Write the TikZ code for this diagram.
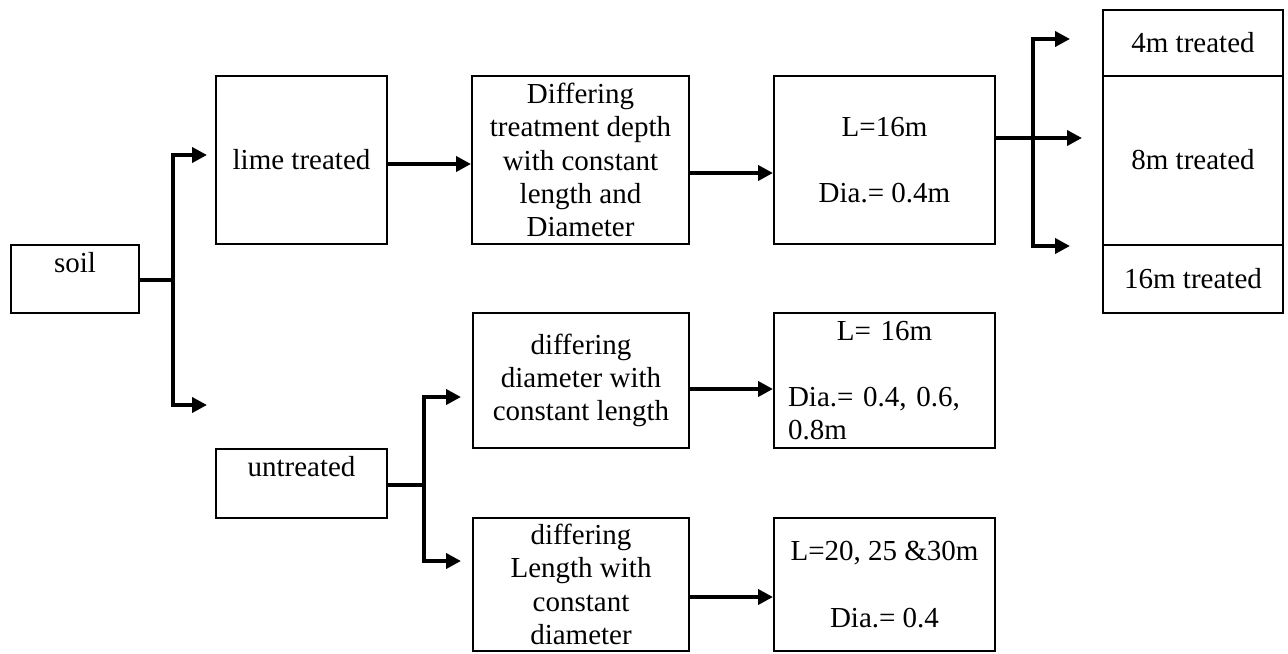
\documentclass[tikz,border=0pt]{standalone}
\usepackage{fontspec}
\setmainfont{Liberation Serif}
\usetikzlibrary{arrows.meta,positioning}
\tikzset{
    block/.style = {draw, rectangle, line width=1pt, inner sep=0pt,
        font=\fontsize{14.5pt}{16.6pt}\selectfont, align=center},
    arrow/.style = {draw, ->, line width=2pt},
    branch/.style = {draw, line width=2pt}
}

\begin{document}
\begin{tikzpicture}[x=0.5pt, y=-0.5pt, node distance=2cm, >={Triangle[length=7.5pt,width=7.5pt]}]
    \useasboundingbox (0,0) rectangle (1288,653);
    \node [block, minimum width=64pt, minimum height=34pt] (soil) at (75,279) {soil\\~};
    % lime treated branch
    \node [block, minimum width=85.5pt, minimum height=84pt] (lime) at (301.5,160) {lime treated};
    \node [block, right of=lime, node distance=139.5pt, minimum width=108.5pt, minimum height=84pt] (depth) {Differing\\treatment depth\\with constant\\length and\\Diameter};
    \node [block, right of=depth, node distance=152pt, minimum width=110.5pt, minimum height=84pt] (fixed) {L=16m\\~\\Dia.= 0.4m};
    \node [block, right of=fixed, node distance=154.25pt, minimum width=90pt, minimum height=84.5pt] (t8) {8m treated};
    \node [block, above of=t8, node distance=58.75pt, minimum width=90pt, minimum height=33pt] (t4) {4m treated};
    \node [block, below of=t8, node distance=59.25pt, minimum width=90pt, minimum height=34pt] (t16) {16m treated};
    % untreated branch
    \node [block, minimum width=85.5pt, minimum height=34.5pt] (untreated) at (301.5,483.5) {untreated\\~};
    \node [block, minimum width=108pt, minimum height=67.5pt] (diam) at (581,380.5) {differing\\diameter with\\constant length};
    \node [block, right of=diam, node distance=151.75pt, minimum width=110.5pt, minimum height=67.5pt, align=left, text width=96.5pt] (dias) {\makebox[96.5pt]{L= 16m}\\~\\Dia.= 0.4, 0.6,\\0.8m};
    \node [block, below of=diam, node distance=102pt, minimum width=108pt, minimum height=66.5pt] (len) {differing\\Length with\\constant\\diameter};
    \node [block, right of=len, node distance=151.75pt, minimum width=110.5pt, minimum height=66.5pt] (lens) {L=20, 25 \&30m\\~\\Dia.= 0.4};

    \coordinate (soilfork) at (173,280);
    \coordinate (limein) at (207,155);
    \coordinate (soilend) at (207,405);
    \draw [branch] (soil.east |- soilfork) -- (soilfork);
    \draw [arrow] (soilfork) |- (limein);
    \draw [arrow] (soilfork) |- (soilend);

    \draw [arrow] ([yshift=-2pt]lime.east) -- ([yshift=-2pt]depth.west);
    \draw [arrow] ([yshift=-6.5pt]depth.east) -- ([yshift=-6.5pt]fixed.west);

    \coordinate (fixfork) at (1033,138);
    \coordinate (in4) at (1070,39);
    \coordinate (in8) at (1082,138);
    \coordinate (in16) at (1070,246);
    \draw [arrow] (fixed.east |- in8) -- (in8);
    \draw [arrow] (fixfork) |- (in4);
    \draw [arrow] (fixfork) |- (in16);

    \coordinate (ufork) at (424,485);
    \coordinate (indiam) at (461,397);
    \coordinate (inlen) at (461,561);
    \draw [branch] (untreated.east |- ufork) -- (ufork);
    \draw [arrow] (ufork) |- (indiam);
    \draw [arrow] (ufork) |- (inlen);

    \draw [arrow] ([yshift=-4.25pt]diam.east) -- ([yshift=-4.25pt]dias.west);
    \draw [arrow] ([yshift=-6.25pt]len.east) -- ([yshift=-6.25pt]lens.west);
\end{tikzpicture}
\end{document}
